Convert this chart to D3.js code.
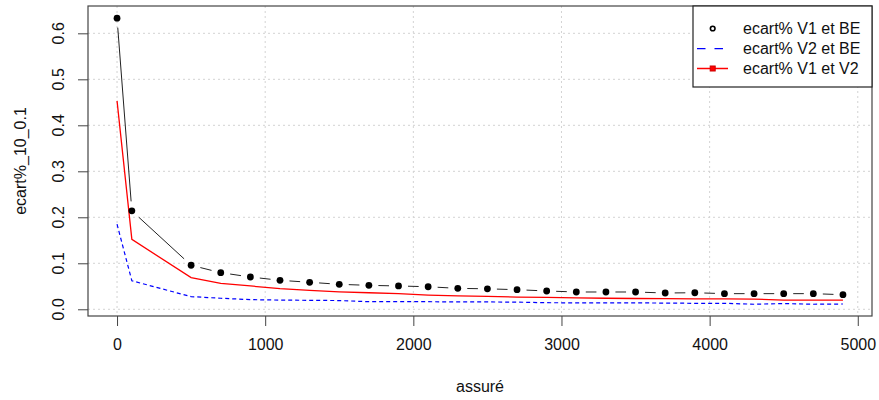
<!DOCTYPE html>
<html>
<head>
<meta charset="utf-8">
<script src="https://cdn.jsdelivr.net/npm/d3@7"></script>
<style>
  body { margin: 0; background: #fff; }
  svg { display: block; font-family: "Liberation Sans", Arial, sans-serif; }
</style>
</head>
<body>
<svg id="drawing_region"></svg>
<script>
// x values (assuré)
const assure = [0, 100, 500, 700, 900, 1100, 1300, 1500, 1700, 1900, 2100, 2300, 2500,
                2700, 2900, 3100, 3300, 3500, 3700, 3900, 4100, 4300, 4500, 4700, 4900];

// ecart% V1 et BE (black points)
const ecartV1BE = [0.633, 0.214, 0.0957, 0.0796, 0.0702, 0.063, 0.0587, 0.0543, 0.052, 0.0507,
                   0.049, 0.0455, 0.0445, 0.0426, 0.0398, 0.0376, 0.0376, 0.0376, 0.0354, 0.036,
                   0.034, 0.034, 0.034, 0.034, 0.0317];

// ecart% V2 et BE (blue dashed)
const ecartV2BE = [0.185, 0.062, 0.0275, 0.024, 0.021, 0.020, 0.0195, 0.019, 0.0165, 0.0165,
                   0.0165, 0.016, 0.016, 0.0155, 0.0143, 0.014, 0.014, 0.014, 0.0135, 0.013,
                   0.013, 0.011, 0.0125, 0.011, 0.0115];

// ecart% V1 et V2 (red line)
const ecartV1V2 = [0.453, 0.152, 0.0688, 0.0565, 0.0507, 0.045, 0.041, 0.038, 0.036, 0.034,
                   0.031, 0.029, 0.028, 0.0265, 0.026, 0.0248, 0.024, 0.0235, 0.023, 0.0225,
                   0.0225, 0.022, 0.020, 0.020, 0.020];

const xTicks = [0, 1000, 2000, 3000, 4000, 5000];
const yTicks = [0, 0.1, 0.2, 0.3, 0.4, 0.5, 0.6];
const legendLabels = ['ecart% V1 et BE', 'ecart% V2 et BE', 'ecart% V1 et V2'];

const width = 879, height = 400;
const margin = {top: 6, right: 7, bottom: 84, left: 88};
const fontSize = 16;

const svg = d3.select('#drawing_region')
  .attr('width', width)
  .attr('height', height);

const plotRight = width - margin.right;
const plotBottom = height - margin.bottom;

// R style: data range widened by 4% on each side
const xscale = d3.scaleLinear()
  .domain([-196, 5096])
  .range([margin.left, plotRight]);

const yscale = d3.scaleLinear()
  .domain([-0.0146, 0.6594])
  .range([plotBottom, margin.top]);

// grid
const grid = svg.append('g')
  .attr('stroke', '#d3d3d3')
  .attr('stroke-dasharray', '2,3')
  .attr('stroke-width', 1);

grid.selectAll('line.vx').data(xTicks).enter()
  .append('line')
  .attr('x1', d => xscale(d)).attr('x2', d => xscale(d))
  .attr('y1', margin.top).attr('y2', plotBottom);

grid.selectAll('line.hy').data(yTicks).enter()
  .append('line')
  .attr('x1', margin.left).attr('x2', plotRight)
  .attr('y1', d => yscale(d)).attr('y2', d => yscale(d));

// x axis
const xaxis = d3.axisBottom(xscale)
  .tickValues(xTicks)
  .tickFormat(d3.format('d'))
  .tickSize(10)
  .tickPadding(13)
  .tickSizeOuter(0);

const xaxis_group = svg.append('g')
  .attr('transform', `translate(0, ${plotBottom})`)
  .call(xaxis);
xaxis_group.select('.domain').remove();
xaxis_group.selectAll('line').attr('stroke', '#444');
xaxis_group.selectAll('text')
  .attr('font-size', fontSize)
  .attr('font-family', '"Liberation Sans", Arial, sans-serif')
  .attr('fill', '#111');

// y axis (ticks only, labels rotated like R)
const yaxis = d3.axisLeft(yscale)
  .tickValues(yTicks)
  .tickFormat('')
  .tickSize(10)
  .tickSizeOuter(0);

const yaxis_group = svg.append('g')
  .attr('transform', `translate(${margin.left}, 0)`)
  .call(yaxis);
yaxis_group.select('.domain').remove();
yaxis_group.selectAll('line').attr('stroke', '#444');

svg.append('g').selectAll('text').data(yTicks).enter()
  .append('text')
  .attr('transform', d => `translate(64, ${yscale(d)}) rotate(-90)`)
  .attr('text-anchor', 'middle')
  .attr('font-size', fontSize)
  .attr('fill', '#111')
  .text(d => d3.format('.1f')(d));

// axis titles
svg.append('text')
  .attr('x', (margin.left + plotRight) / 2)
  .attr('y', 392)
  .attr('text-anchor', 'middle')
  .attr('font-size', fontSize)
  .attr('fill', '#111')
  .text('assuré');

svg.append('text')
  .attr('transform', `translate(26, ${(margin.top + plotBottom) / 2}) rotate(-90)`)
  .attr('text-anchor', 'middle')
  .attr('font-size', fontSize)
  .attr('fill', '#111')
  .text('ecart%_10_0.1');

// series lines
const pts = (ys) => assure.map((x, i) => [x, ys[i]]);
const line = d3.line()
  .x(d => xscale(d[0]))
  .y(d => yscale(d[1]));

svg.append('path')
  .datum(pts(ecartV2BE))
  .attr('fill', 'none')
  .attr('stroke', '#0000ff')
  .attr('stroke-width', 1.2)
  .attr('stroke-dasharray', '4,3')
  .attr('d', line);

svg.append('path')
  .datum(pts(ecartV1V2))
  .attr('fill', 'none')
  .attr('stroke', '#ff0000')
  .attr('stroke-width', 1.3)
  .attr('d', line);

// black: type "b" -> segments with gaps around the points
const blackPts = pts(ecartV1BE).map(d => [xscale(d[0]), yscale(d[1])]);
const gap = 9.5;
const segs = [];
for (let i = 0; i < blackPts.length - 1; i++) {
  const [x0, y0] = blackPts[i], [x1, y1] = blackPts[i + 1];
  const len = Math.hypot(x1 - x0, y1 - y0);
  if (len <= 2 * gap) continue;
  const ux = (x1 - x0) / len, uy = (y1 - y0) / len;
  segs.push([x0 + ux * gap, y0 + uy * gap, x1 - ux * gap, y1 - uy * gap]);
}
svg.append('g').selectAll('line').data(segs).enter()
  .append('line')
  .attr('x1', d => d[0]).attr('y1', d => d[1])
  .attr('x2', d => d[2]).attr('y2', d => d[3])
  .attr('stroke', '#222')
  .attr('stroke-width', 1);

svg.append('g').selectAll('circle').data(pts(ecartV1BE)).enter()
  .append('circle')
  .attr('cx', d => xscale(d[0]))
  .attr('cy', d => yscale(d[1]))
  .attr('r', 3.4)
  .attr('fill', '#000');

// plot box
svg.append('rect')
  .attr('x', margin.left).attr('y', margin.top)
  .attr('width', plotRight - margin.left)
  .attr('height', plotBottom - margin.top)
  .attr('fill', 'none')
  .attr('stroke', '#444')
  .attr('stroke-width', 1.2);

// legend
const lg = svg.append('g');
lg.append('rect')
  .attr('x', 693).attr('y', margin.top)
  .attr('width', plotRight - 693).attr('height', 81)
  .attr('fill', '#fff')
  .attr('stroke', '#222')
  .attr('stroke-width', 1.2);

const rowY = [28.5, 48.7, 68.5];
lg.selectAll('text').data(legendLabels).enter()
  .append('text')
  .attr('x', 743)
  .attr('y', (d, i) => rowY[i])
  .attr('dy', '0.36em')
  .attr('font-size', fontSize)
  .attr('fill', '#111')
  .text(d => d);

lg.append('circle')
  .attr('cx', 712.7).attr('cy', rowY[0])
  .attr('r', 2.3)
  .attr('fill', 'none')
  .attr('stroke', '#000')
  .attr('stroke-width', 1.6);

lg.append('line')
  .attr('x1', 697).attr('x2', 726)
  .attr('y1', rowY[1]).attr('y2', rowY[1])
  .attr('stroke', '#0000ff')
  .attr('stroke-width', 1.3)
  .attr('stroke-dasharray', '8.5,9');

lg.append('line')
  .attr('x1', 697).attr('x2', 728)
  .attr('y1', rowY[2]).attr('y2', rowY[2])
  .attr('stroke', '#ff0000')
  .attr('stroke-width', 1.5);

lg.append('rect')
  .attr('x', 710.2).attr('y', rowY[2] - 2.5)
  .attr('width', 5).attr('height', 5)
  .attr('fill', '#ff0000')
  .attr('stroke', '#cc0000');
</script>
</body>
</html>
